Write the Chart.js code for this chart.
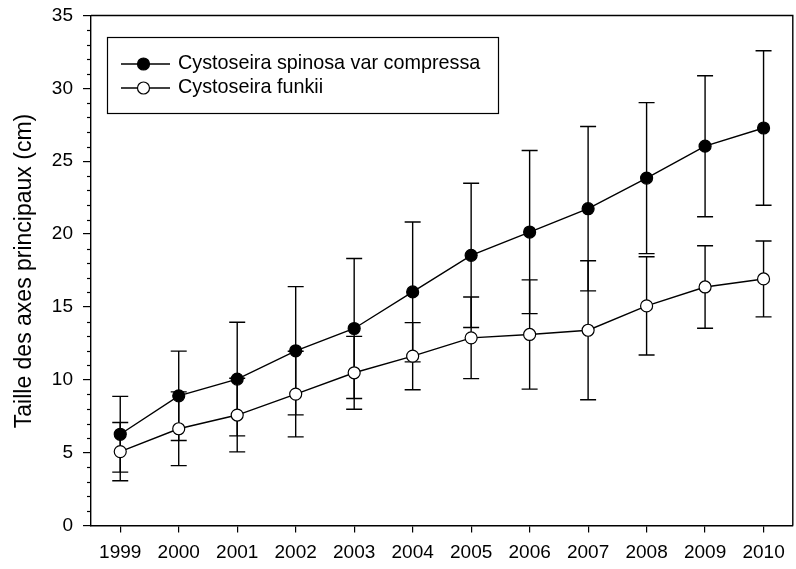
<!DOCTYPE html>
<html>
<head>
<meta charset="utf-8">
<script src="https://cdn.jsdelivr.net/npm/chart.js@4.4.1/dist/chart.umd.min.js"></script>
<style>
html,body{margin:0;padding:0;background:#fff;overflow:hidden;width:796px;height:569px;}
#wrap{position:absolute;left:0;top:0;width:800px;height:569px;}
</style>
</head>
<body>
<div id="wrap"><canvas id="c" width="800" height="569"></canvas></div>
<script>
const years = ['1999','2000','2001','2002','2003','2004','2005','2006','2007','2008','2009','2010'];
const spinosa = [6.26, 8.90, 10.05, 11.99, 13.52, 16.03, 18.54, 20.14, 21.74, 23.84, 26.03, 27.28];
const spinosaErr = [2.6, 3.07, 3.9, 4.4, 4.8, 4.8, 4.95, 5.6, 5.64, 5.18, 4.84, 5.3];
const funkii = [5.07, 6.64, 7.58, 9.02, 10.48, 11.62, 12.88, 13.11, 13.40, 15.07, 16.37, 16.92];
const funkiiErr = [2.0, 2.53, 2.53, 2.94, 2.5, 2.3, 2.8, 3.75, 4.77, 3.37, 2.83, 2.6];
const seriesNames = ['Cystoseira spinosa var compressa', 'Cystoseira funkii'];
const yTitle = 'Taille des axes principaux (cm)';
const yMin = 0, yMax = 35, yMajor = 5, yMinor = 1;

const FONT = '"Liberation Sans", Arial, sans-serif';

const errorBars = {
  id: 'errorBars',
  beforeDatasetsDraw(chart) {
    const ctx = chart.ctx;
    const xs = chart.scales.x, ys = chart.scales.y;
    const errs = [spinosaErr, funkiiErr];
    ctx.save();
    ctx.strokeStyle = '#000';
    ctx.lineWidth = 1.4;
    chart.data.datasets.forEach((ds, di) => {
      ds.data.forEach((v, i) => {
        const x = xs.getPixelForValue(i);
        const e = errs[di][i];
        const yt = ys.getPixelForValue(v + e);
        const yb = ys.getPixelForValue(v - e);
        ctx.beginPath();
        ctx.moveTo(x, yt); ctx.lineTo(x, yb);
        ctx.moveTo(x - 8, yt); ctx.lineTo(x + 8, yt);
        ctx.moveTo(x - 8, yb); ctx.lineTo(x + 8, yb);
        ctx.stroke();
      });
    });
    ctx.restore();
  }
};

const decor = {
  id: 'decor',
  afterDraw(chart) {
    const ctx = chart.ctx;
    const a = chart.chartArea;
    const ys = chart.scales.y;
    ctx.save();
    ctx.strokeStyle = '#000';
    ctx.lineWidth = 1.4;
    ctx.beginPath();
    ctx.moveTo(a.left, a.top); ctx.lineTo(a.right, a.top);
    ctx.lineTo(a.right, a.bottom);
    ctx.stroke();
    ctx.lineWidth = 1.2;
    for (let v = yMin; v <= yMax; v += yMinor) {
      if (v % yMajor === 0) continue;
      const y = Math.round(ys.getPixelForValue(v)) + 0.5;
      ctx.beginPath();
      ctx.moveTo(a.left - 4, y); ctx.lineTo(a.left, y);
      ctx.stroke();
    }
    ctx.fillStyle = '#000';
    ctx.font = '23px ' + FONT;
    ctx.textAlign = 'center';
    ctx.textBaseline = 'middle';
    ctx.translate(25, 271);
    ctx.rotate(-Math.PI / 2);
    ctx.fillText(yTitle, 0, 0);
    ctx.restore();

    ctx.save();
    const bx = 107.5, by = 37.5, bw = 391, bh = 76;
    ctx.strokeStyle = '#000';
    ctx.lineWidth = 1.2;
    ctx.strokeRect(bx, by, bw, bh);
    const rows = [64, 88];
    chart.data.datasets.forEach((ds, di) => {
      const y = rows[di];
      ctx.lineWidth = 1.4;
      ctx.beginPath();
      ctx.moveTo(121, y); ctx.lineTo(170, y);
      ctx.stroke();
      ctx.beginPath();
      ctx.arc(143.5, y, 6, 0, Math.PI * 2);
      ctx.fillStyle = ds.pointBackgroundColor;
      ctx.fill();
      ctx.lineWidth = 1.2;
      ctx.stroke();
      ctx.fillStyle = '#000';
      ctx.font = '19.8px ' + FONT;
      ctx.textAlign = 'left';
      ctx.textBaseline = 'middle';
      ctx.fillText(seriesNames[di], 178, y);
    });
    ctx.restore();
  }
};

new Chart(document.getElementById('c'), {
  type: 'line',
  data: {
    labels: years,
    datasets: [
      { label: seriesNames[0], data: spinosa, borderColor: '#000', borderWidth: 1.4,
        pointRadius: 6, pointBackgroundColor: '#000', pointBorderColor: '#000', pointBorderWidth: 1.2,
        fill: false, tension: 0 },
      { label: seriesNames[1], data: funkii, borderColor: '#000', borderWidth: 1.4,
        pointRadius: 6, pointBackgroundColor: '#fff', pointBorderColor: '#000', pointBorderWidth: 1.2,
        fill: false, tension: 0 }
    ]
  },
  options: {
    responsive: false,
    animation: false,
    events: [],
    layout: { padding: { top: 15.5, right: 0, left: 0, bottom: 0 } },
    plugins: { legend: { display: false }, tooltip: { enabled: false } },
    scales: {
      x: {
        type: 'category',
        offset: true,
        grid: { display: true, drawOnChartArea: false, drawTicks: true, tickLength: 7, color: '#000', lineWidth: 1.2, offset: false },
        border: { display: true, color: '#000', width: 1.4 },
        ticks: { color: '#000', font: { family: FONT, size: 19 }, padding: 9, maxRotation: 0, autoSkip: false },
        afterFit(s) { s.height = 43.5; s.paddingLeft = 0; s.paddingRight = 0; }
      },
      y: {
        min: yMin, max: yMax,
        grid: { display: true, drawOnChartArea: false, drawTicks: true, tickLength: 8, color: '#000', lineWidth: 1.2 },
        border: { display: true, color: '#000', width: 1.4 },
        ticks: { stepSize: yMajor, color: '#000', font: { family: FONT, size: 19 }, padding: 10 },
        afterFit(s) { s.width = 91; s.paddingTop = 0; s.paddingBottom = 0; }
      }
    }
  },
  plugins: [errorBars, decor]
});
</script>
</body>
</html>
